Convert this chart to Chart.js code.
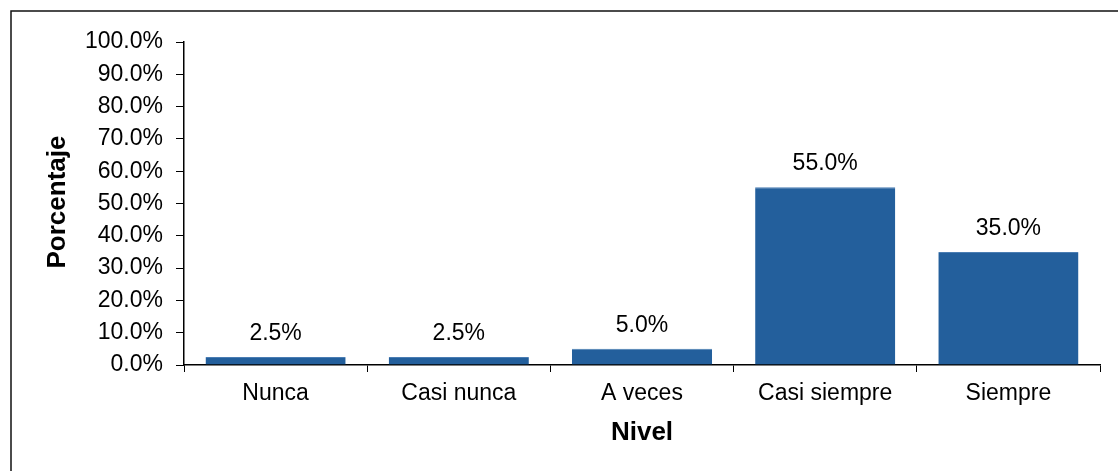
<!DOCTYPE html>
<html>
<head>
<meta charset="utf-8">
<script src="https://cdn.jsdelivr.net/npm/chart.js@4/dist/chart.umd.min.js"></script>
<style>
    html, body { margin: 0; padding: 0; background: #fff; }
    #nivelChart { display: block; }
</style>
</head>
<body>
<canvas id="nivelChart" width="1118" height="471"></canvas>
<script>
// Datos del gráfico
const niveles = ['Nunca', 'Casi nunca', 'A veces', 'Casi siempre', 'Siempre'];
const porcentajes = [2.5, 2.5, 5.0, 55.0, 35.0];
const yMin = 0;
const yMax = 100;
const yStep = 10;

const fontFamily = '"Liberation Sans", Arial, sans-serif';
const barColor = '#235F9C';

// Marco del gráfico (borde superior e izquierdo) y título del eje Y
const frameBorder = {
    id: 'frameBorder',
    beforeDraw(chart) {
        const ctx = chart.ctx;
        ctx.save();
        ctx.strokeStyle = '#111';
        ctx.lineWidth = 1.5;
        ctx.beginPath();
        ctx.moveTo(11, chart.height);
        ctx.lineTo(11, 11);
        ctx.lineTo(chart.width, 11);
        ctx.stroke();

        ctx.translate(58, 202);
        ctx.rotate(-Math.PI / 2);
        ctx.font = 'bold 26px ' + fontFamily;
        ctx.fillStyle = '#000';
        ctx.textAlign = 'center';
        ctx.textBaseline = 'middle';
        ctx.fillText('Porcentaje', 0, 0);
        ctx.restore();
    }
};

// Etiquetas de valor encima de cada barra
const valueLabels = {
    id: 'valueLabels',
    afterDatasetsDraw(chart) {
        const ctx = chart.ctx;
        const meta = chart.getDatasetMeta(0);
        ctx.save();
        ctx.font = '23px ' + fontFamily;
        ctx.fillStyle = '#000';
        ctx.textAlign = 'center';
        ctx.textBaseline = 'bottom';
        meta.data.forEach((bar, i) => {
            ctx.fillText(porcentajes[i].toFixed(1) + '%', bar.x, bar.y - 12);
        });
        ctx.restore();
    }
};

const ctx = document.getElementById('nivelChart').getContext('2d');
const nivelChart = new Chart(ctx, {
    type: 'bar',
    data: {
        labels: niveles,
        datasets: [{
            label: 'Porcentaje',
            data: porcentajes,
            backgroundColor: barColor,
            borderColor: '#4A7DB3',
            borderWidth: { top: 1, left: 0, right: 0, bottom: 0 },
            borderSkipped: false,
            categoryPercentage: 1,
            barPercentage: 0.765
        }]
    },
    options: {
        responsive: false,
        animation: false,
        layout: {
            padding: { left: 0, right: 18, top: 42, bottom: 0 }
        },
        plugins: {
            legend: { display: false },
            tooltip: { enabled: false }
        },
        scales: {
            x: {
                afterFit(scale) { scale.height = 106; },
                grid: {
                    display: true,
                    drawOnChartArea: false,
                    drawTicks: true,
                    tickLength: 7,
                    color: '#000',
                    offset: true
                },
                border: { display: true, color: '#000', width: 1.5 },
                ticks: {
                    color: '#000',
                    padding: 8,
                    maxRotation: 0,
                    font: { family: fontFamily, size: 23 }
                },
                title: {
                    display: true,
                    text: 'Nivel',
                    color: '#000',
                    padding: { top: 0, bottom: 23 },
                    font: { family: fontFamily, size: 26, weight: 'bold' }
                }
            },
            y: {
                min: yMin,
                max: yMax,
                afterFit(scale) { scale.width = 184; },
                grid: {
                    display: true,
                    drawOnChartArea: false,
                    drawTicks: true,
                    tickLength: 8,
                    color: '#000'
                },
                border: { display: true, color: '#000', width: 1.5 },
                ticks: {
                    stepSize: yStep,
                    color: '#000',
                    padding: 13,
                    font: { family: fontFamily, size: 23 },
                    callback: (v) => v.toFixed(1) + '%'
                }
            }
        }
    },
    plugins: [frameBorder, valueLabels]
});
</script>
</body>
</html>
